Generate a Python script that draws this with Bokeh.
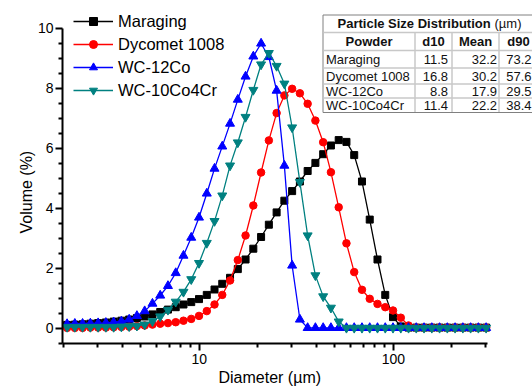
from bokeh.plotting import figure
from bokeh.models import (Range1d, FixedTicker, Legend, LegendItem, Label, Title,
                          BoxAnnotation, BasicTickFormatter)
from bokeh.embed import file_html
from bokeh.resources import INLINE

# ---------------- data ----------------
diameter = [2.080, 2.281, 2.500, 2.741, 3.007, 3.297, 3.615, 3.963, 4.346, 4.765,
            5.225, 5.729, 6.282, 6.888, 7.552, 8.280, 9.080, 9.956, 10.92, 11.97,
            13.12, 14.39, 15.78, 17.30, 18.97, 20.80, 22.81, 25.01, 27.42, 30.07,
            32.97, 36.15, 39.63, 43.46, 47.65, 52.25, 57.29, 62.82, 68.88, 75.52,
            82.81, 90.80, 99.56, 109.2, 119.7, 131.2, 143.9, 157.8, 173.0, 189.7,
            208.0, 228.1, 250.1, 274.2, 300.6]

maraging = [0.12, 0.13, 0.14, 0.16, 0.18, 0.20, 0.23, 0.26, 0.30, 0.35,
            0.40, 0.47, 0.55, 0.63, 0.71, 0.80, 0.88, 0.98, 1.12, 1.30,
            1.49, 1.69, 1.98, 2.30, 2.66, 3.05, 3.46, 3.87, 4.26, 4.58,
            4.90, 5.25, 5.52, 5.81, 6.10, 6.28, 6.22, 5.78, 4.90, 3.63,
            2.30, 1.12, 0.38, 0.07, 0.03, 0.03, 0.03, 0.03, 0.03, 0.03,
            0.03, 0.03, 0.03, 0.03, 0.03]

dycomet = [0.02, 0.02, 0.02, 0.03, 0.03, 0.03, 0.04, 0.05, 0.06, 0.08,
           0.10, 0.13, 0.16, 0.18, 0.21, 0.26, 0.32, 0.42, 0.58, 0.80,
           1.12, 1.60, 2.28, 3.10, 4.10, 5.20, 6.27, 7.18, 7.77, 7.99,
           7.84, 7.49, 6.93, 6.21, 5.21, 4.04, 2.84, 1.88, 1.29, 0.99,
           0.82, 0.71, 0.60, 0.36, 0.10, 0.03, 0.03, 0.03, 0.03, 0.03,
           0.03, 0.03, 0.03, 0.03, 0.03]

wc12co = [0.15, 0.16, 0.16, 0.17, 0.18, 0.19, 0.21, 0.24, 0.30, 0.42,
          0.58, 0.83, 1.10, 1.42, 1.85, 2.43, 3.03, 3.70, 4.50, 5.33,
          6.07, 6.83, 7.63, 8.40, 9.07, 9.50, 9.05, 7.93, 5.43, 2.10,
          0.30, 0.02, 0.02, 0.02, 0.02, 0.02, 0.02, 0.02, 0.02, 0.02,
          0.02, 0.02, 0.02, 0.02, 0.02, 0.02, 0.02, 0.02, 0.02, 0.02,
          0.02, 0.02, 0.02, 0.02, 0.02]

wc10co4cr = [0.05, 0.05, 0.05, 0.05, 0.05, 0.05, 0.05, 0.06, 0.07, 0.09,
             0.13, 0.24, 0.40, 0.62, 0.89, 1.22, 1.64, 2.18, 2.85, 3.58,
             4.43, 5.43, 6.20, 7.05, 7.95, 8.80, 9.18, 8.75, 8.16, 6.70,
             4.88, 3.10, 1.77, 1.07, 0.69, 0.23, 0.02, 0.02, 0.02, 0.02,
             0.02, 0.02, 0.02, 0.02, 0.02, 0.02, 0.02, 0.02, 0.02, 0.02,
             0.02, 0.02, 0.02, 0.02, 0.02]

series_names = ["Maraging", "Dycomet 1008", "WC-12Co", "WC-10Co4Cr"]

x_major = [10, 100]
x_minor = [2, 3, 4, 5, 6, 7, 8, 9, 20, 30, 40, 50, 60, 70, 80, 90, 200, 300]
y_major = [0, 2, 4, 6, 8, 10]
y_minor = [-0.5, 0.5, 1, 1.5, 2.5, 3, 3.5, 4.5, 5, 5.5, 6.5, 7, 7.5, 8.5, 9, 9.5]

x_title = "Diameter (µm)"
y_title = "Volume (%)"

table_title = "Particle Size Distribution"
table_unit = "(µm)"
table_header = ["Powder", "d10", "Mean", "d90"]
powders = ["Maraging", "Dycomet 1008", "WC-12Co", "WC-10Co4Cr"]
d10 = ["11.5", "16.8", "8.8", "11.4"]
mean = ["32.2", "30.2", "17.9", "22.2"]
d90 = ["73.2", "57.6", "29.5", "38.4"]

# ---------------- figure ----------------
FONT = "Liberation Sans"
p = figure(width=532, height=387, x_axis_type="log",
           x_range=Range1d(1.97, 521.3), y_range=Range1d(-0.5, 10.933),
           output_backend="svg", toolbar_location=None,
           min_border_left=62, min_border_right=0, min_border_top=0,
           min_border_bottom=44)
p.grid.visible = False
p.outline_line_color = None
p.background_fill_color = "white"

p.xaxis.ticker = FixedTicker(ticks=x_major, minor_ticks=x_minor)
p.xaxis.formatter = BasicTickFormatter()
p.yaxis.ticker = FixedTicker(ticks=y_major, minor_ticks=y_minor)
p.xaxis.bounds = (1.97, 305)
p.yaxis.bounds = (-0.5, 10)

for ax in (p.xaxis[0], p.yaxis[0]):
    ax.axis_line_width = 2
    ax.axis_line_color = "black"
    ax.major_tick_line_width = 2
    ax.minor_tick_line_width = 2
    ax.major_tick_out = 7
    ax.major_tick_in = 0
    ax.minor_tick_out = 4
    ax.minor_tick_in = 0
    ax.major_label_text_font = FONT
    ax.major_label_text_font_size = "14px"
    ax.major_label_text_color = "black"
p.xaxis.major_label_standoff = 3
p.yaxis.major_label_standoff = 2

# axis titles as side-panel titles (offset from frame edge, aligned to the axis bounds)
p.add_layout(Title(text=x_title, align="left", offset=156, standoff=0,
                   text_font=FONT, text_font_size="16px", text_font_style="normal",
                   text_color="black"), "below")
p.add_layout(Title(text=y_title, align="left", offset=110, standoff=0,
                   text_font=FONT, text_font_size="16px", text_font_style="normal",
                   text_color="black"), "left")

styles = [("black", "square", 7), ("red", "circle", 7.5),
          ("blue", "triangle", 9), ("#008080", "inverted_triangle", 9)]
items = []
for name, ys, (c, m, s) in zip(series_names, [maraging, dycomet, wc12co, wc10co4cr], styles):
    ln = p.line(diameter, ys, line_color=c, line_width=1.3)
    sc = p.scatter(diameter, ys, marker=m, size=s, fill_color=c, line_color=c)
    items.append(LegendItem(label=name, renderers=[ln, sc]))

legend = Legend(items=items, location=(11, 243), label_text_font=FONT,
                label_text_font_size="16.5px", label_text_color="black",
                glyph_width=40, glyph_height=20, label_height=20, spacing=3,
                padding=0, margin=0, label_standoff=5,
                border_line_color=None, background_fill_alpha=0)
p.add_layout(legend)

# ---------------- table (screen coordinates relative to frame) ----------------
def sx(px):
    return px - 62

def sy(py):
    return 343 - py

def box(l, r, t, b, color, line=None):
    p.add_layout(BoxAnnotation(left=sx(l), right=sx(r), top=sy(t), bottom=sy(b),
                               left_units="screen", right_units="screen",
                               top_units="screen", bottom_units="screen",
                               fill_color=color, fill_alpha=1,
                               line_color=line, line_alpha=1 if line else 0))

box(322.5, 545, 14.5, 112, "white", "#808080")
for yl in [32, 50, 67.5, 83.5, 97.5]:
    box(323, 545, yl - 0.75, yl + 0.75, "#c8c8c8")
for xl in [414.5, 451.5, 498.5]:
    box(xl - 0.75, xl + 0.75, 32, 111.5, "#c8c8c8")

def lab(text, px, py, align="left", bold=False):
    p.add_layout(Label(x=sx(px), y=sy(py), x_units="screen", y_units="screen",
                       text=text, text_font=FONT, text_font_size="13px",
                       text_font_style="bold" if bold else "normal",
                       text_color="#111111", text_align=align,
                       text_baseline="middle"))

lab(table_title, 337, 23, bold=True)
lab(table_unit, 494, 23)
for h, hx in zip(table_header, [368.5, 433, 475, 518]):
    lab(h, hx, 41, align="center", bold=True)
for i, ry in enumerate([59, 75.5, 90.5, 104.5]):
    lab(powders[i], 325.5, ry)
    lab(d10[i], 447.5, ry, align="right")
    lab(mean[i], 496.5, ry, align="right")
    lab(d90[i], 531, ry, align="right")

open("out.html", "w").write(file_html(p, INLINE))
